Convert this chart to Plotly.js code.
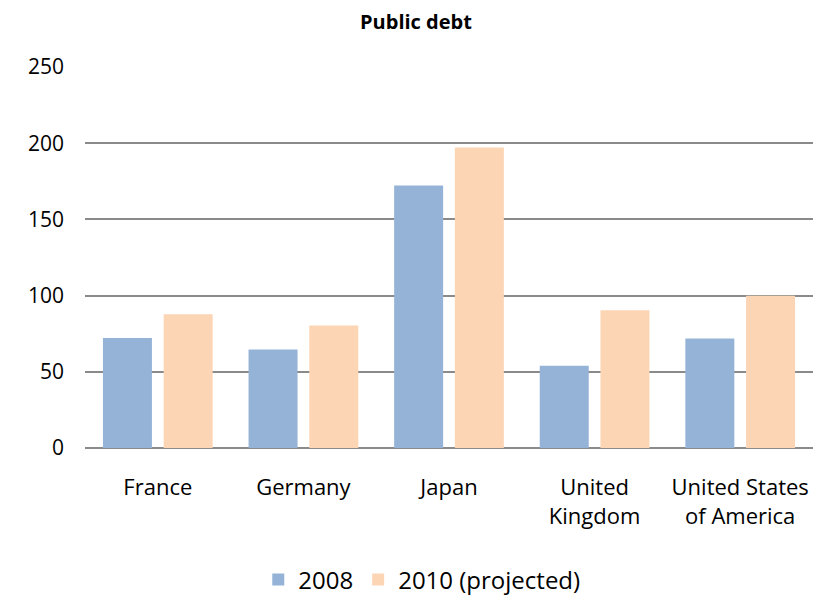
<!DOCTYPE html>
<html>
<head>
<meta charset="utf-8">
<script src="https://cdn.plot.ly/plotly-3.0.1.min.js"></script>
<style>html,body{margin:0;padding:0;background:#fff;}#chart{width:827px;height:596px;}</style>
</head>
<body>
<div id="chart"></div>
<script>
const categories = ["France", "Germany", "Japan", "United<br>Kingdom", "United States<br>of America"];
const values2008 = [72.1, 64.7, 172.2, 54.0, 71.9];
const values2010 = [87.8, 80.4, 197.2, 90.4, 99.9];
const seriesNames = ["2008", "2010 (projected)"];
const yTicks = [0, 50, 100, 150, 200, 250];

const font = "Open Sans, Liberation Sans, sans-serif";
const data = [
  {type: "bar", name: seriesNames[0], x: categories, y: values2008,
   marker: {color: "#95B3D7", line: {width: 0}}},
  {type: "bar", name: seriesNames[1], x: categories, y: values2010,
   marker: {color: "#FCD5B5", line: {width: 0}}}
];
const layout = {
  width: 827, height: 596,
  margin: {l: 85, r: 14, t: 67, b: 148},
  paper_bgcolor: "#fff", plot_bgcolor: "#fff",
  font: {family: font, color: "#000", size: 20},
  title: {text: "<b>Public debt</b>", font: {family: font, size: 20, color: "#000"},
          x: 0.503, xanchor: "center", y: 0.963, yanchor: "middle", xref: "container"},
  barmode: "group", bargap: 0.166, bargroupgap: 0.193,
  xaxis: {type: "category", showgrid: false, zeroline: false, showline: false,
          ticks: "", ticklabelstandoff: 24, tickfont: {family: font, size: 22, color: "#000"}},
  yaxis: {range: [0, 250], tickvals: yTicks, showgrid: true, gridcolor: "#8a8a8a", gridwidth: 2,
          zeroline: true, zerolinecolor: "#8a8a8a", zerolinewidth: 2, showline: false,
          ticks: "", ticklabelstandoff: 20, tickfont: {family: font, size: 21, color: "#000"}},
  legend: {orientation: "h", x: 0.51, xanchor: "center", xref: "container",
           y: 0.027, yanchor: "middle", yref: "container",
           font: {family: font, size: 24, color: "#000"}, itemwidth: 30, traceorder: "normal"},
  showlegend: true
};
Plotly.newPlot("chart", data, layout, {displayModeBar: false, staticPlot: true});
</script>
</body>
</html>
